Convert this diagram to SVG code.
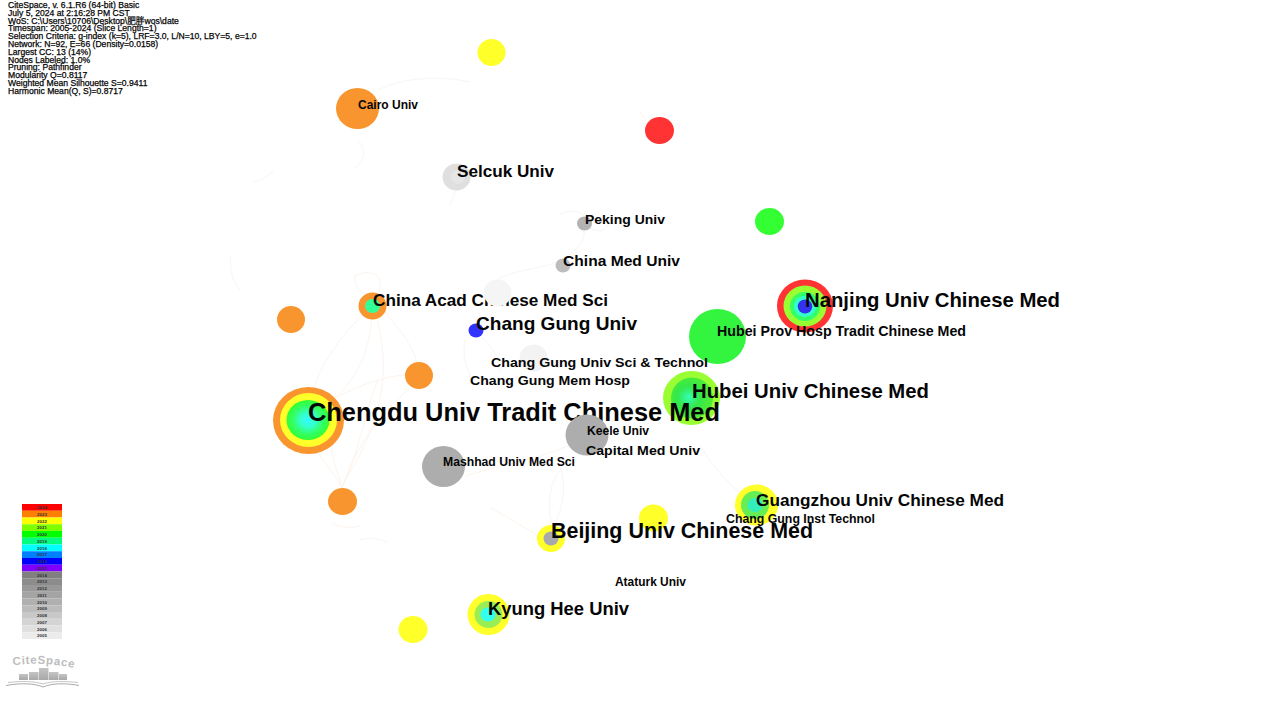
<svg xmlns="http://www.w3.org/2000/svg" width="1262" height="704" viewBox="0 0 1262 704">
<style>
text{font-family:"Liberation Sans","Noto Sans CJK SC",Arial,sans-serif;font-weight:bold;fill:#050505}
.h{font-size:8.6px;font-weight:normal;stroke:#050505;stroke-width:.25px}
.y{font-size:4.4px;text-anchor:middle;fill:#333}
.e{fill:none;stroke:#fdf4ec;stroke-width:1}
.g{fill:none;stroke:#f6f6f6;stroke-width:1}
.o{fill:#f9952f}.yl{fill:#ffff2a}.lg{fill:#99ff33}.gr{fill:#33ff33}.b{fill:#adadad}
</style>
<defs>
<radialGradient id="core"><stop offset="0" stop-color="#33ffff"/><stop offset=".35" stop-color="#33ffcc"/><stop offset=".7" stop-color="#33ff66"/><stop offset="1" stop-color="#33ff33"/></radialGradient>
<radialGradient id="core2" cx=".42" cy=".48"><stop offset="0" stop-color="#33ffbb"/><stop offset=".3" stop-color="#33f077"/><stop offset=".55" stop-color="#33e84a"/><stop offset="1" stop-color="#4cec38"/></radialGradient>
<linearGradient id="bar" x1="0" y1="0" x2="0" y2="1"><stop offset="0" stop-color="#c4c4c4"/><stop offset="1" stop-color="#a8a8a8"/></linearGradient>
<path id="arc" d="M13 665.500 Q43 661 76 668.500"/>
</defs>
<rect width="1262" height="704" fill="#fff"/>
<g id="connectors">
<path class="e" d="M372 306C335 340 318 370 313 392"/>
<path class="e" d="M372 310C372 355 350 390 325 405"/>
<path class="e" d="M376 315C388 360 390 410 345 480"/>
<path class="e" d="M385 312C400 330 412 345 417 362"/>
<path class="e" d="M335 398C360 385 385 376 405 375"/>
<path class="e" d="M342 488C358 440 385 410 410 388"/>
<path class="e" d="M342 488C335 465 330 450 332 445"/>
<path class="e" d="M342 488C325 460 318 455 315 448"/>
<path class="e" d="M342 488C360 450 365 410 378 380"/>
<path class="e" d="M356 275C375 268 385 278 378 293"/>
<path class="e" d="M356 275C352 280 358 292 366 294"/>
<path class="e" d="M332 522C335 525 345 530 360 526"/>
<path class="g" d="M360 540C368 537 380 538 388 543"/>
<path class="g" d="M231 255C229 270 233 282 240 290"/>
<path class="g" d="M358 140C366 150 366 160 355 168"/>
<path class="g" d="M378 90C400 78 440 75 470 82"/>
<path class="g" d="M253 182C262 180 270 175 274 170"/>
<path class="g" d="M456 190L450 205"/>
<path class="g" d="M584 216C580 210 570 210 560 214"/>
<path class="g" d="M590 228C600 234 606 230 610 222"/>
<path class="g" d="M563 258C578 250 586 240 584 230"/>
<path class="g" d="M497 280C512 270 545 268 556 262"/>
<path class="g" d="M475 330C490 345 498 352 500 372"/>
<path class="e" d="M465 340C462 355 466 365 470 375"/>
<path class="g" d="M553 528C546 505 550 480 561 470"/>
<path class="g" d="M553 528C565 505 566 480 560 468"/>
<path class="e" d="M537 535C520 525 505 515 490 508"/>
<path class="e" d="M465 476C500 465 540 458 570 445"/>
<path class="e" d="M700 445C715 470 730 485 742 494"/>
<path class="e" d="M640 112C645 118 648 122 650 125"/>
</g>
<g id="n-cairo"><ellipse class="o" cx="357.500" cy="108.500" rx="21.500" ry="20.500"/><text x="358" y="108.500" font-size="12" textLength="60" lengthAdjust="spacingAndGlyphs">Cairo Univ</text></g>
<g id="n-y1"><ellipse class="yl" cx="491.500" cy="52.500" rx="14" ry="13.500"/></g>
<g id="n-red"><ellipse fill="#ff3333" cx="659.500" cy="130.500" rx="14.500" ry="13.500"/></g>
<g id="n-g1"><ellipse class="gr" cx="769.500" cy="221.500" rx="14.500" ry="13.500"/></g>
<g id="n-selcuk"><ellipse fill="#dfdfdf" cx="456.500" cy="177" rx="14" ry="13.500"/><ellipse fill="#e6e6e6" cx="458" cy="177" rx="7" ry="7"/><text x="457" y="177" font-size="17" textLength="97" lengthAdjust="spacingAndGlyphs">Selcuk Univ</text></g>
<g id="n-peking"><ellipse fill="#b3b3b3" cx="584.500" cy="223.500" rx="7.500" ry="7"/><text x="585" y="223.500" font-size="13.500" textLength="80" lengthAdjust="spacingAndGlyphs">Peking Univ</text></g>
<g id="n-chinamed"><ellipse fill="#bdbdbd" cx="563" cy="265.500" rx="7.500" ry="7"/><text x="563" y="266" font-size="15.500" textLength="117" lengthAdjust="spacingAndGlyphs">China Med Univ</text></g>
<g id="n-o1"><ellipse class="o" cx="291" cy="319.500" rx="14" ry="13.500"/></g>
<g id="n-acad"><ellipse class="o" cx="372.500" cy="306" rx="14" ry="13.500"/><ellipse fill="#33ff99" cx="372.500" cy="306" rx="7.500" ry="7"/><text x="373" y="306" font-size="16.500" textLength="235" lengthAdjust="spacingAndGlyphs">China Acad Chinese Med Sci</text></g>
<g id="n-f1"><ellipse fill="#f5f5f5" cx="497.500" cy="293" rx="14" ry="13.500"/></g>
<g id="n-f2"><ellipse fill="#f3f3f3" cx="533.500" cy="358" rx="14" ry="13.500"/></g>
<g id="n-changgung"><ellipse fill="#3333ff" cx="476" cy="330.500" rx="7.500" ry="7"/><text x="476" y="330" font-size="18.500" textLength="161" lengthAdjust="spacingAndGlyphs">Chang Gung Univ</text></g>
<g id="n-nanjing"><ellipse fill="#ff3333" cx="805" cy="306" rx="28" ry="26.500"/><ellipse fill="#99ff33" cx="805" cy="306" rx="21.500" ry="20.500"/><ellipse fill="#33ff66" cx="805" cy="306.500" rx="15" ry="14.500"/><ellipse fill="#33ffcc" cx="805" cy="306.500" rx="11" ry="10.500"/><ellipse fill="#3333ee" cx="805" cy="306.500" rx="7.300" ry="7"/><text x="805" y="307" font-size="21" textLength="255" lengthAdjust="spacingAndGlyphs">Nanjing Univ Chinese Med</text></g>
<g id="n-hubeiprov"><ellipse fill="#33f53f" cx="717.500" cy="336.500" rx="28.500" ry="27.500"/><text x="717" y="336" font-size="14" textLength="249" lengthAdjust="spacingAndGlyphs">Hubei Prov Hosp Tradit Chinese Med</text></g>
<g id="n-cgust"><text x="491" y="367" font-size="13.500" textLength="217" lengthAdjust="spacingAndGlyphs">Chang Gung Univ Sci &amp; Technol</text></g>
<g id="n-cgmh"><text x="470" y="385" font-size="13.500" textLength="160" lengthAdjust="spacingAndGlyphs">Chang Gung Mem Hosp</text></g>
<g id="n-o2"><ellipse class="o" cx="419" cy="375.500" rx="14" ry="13.500"/></g>
<g id="n-hubei"><ellipse class="lg" cx="691.500" cy="398" rx="28.500" ry="27"/><ellipse fill="url(#core2)" cx="692" cy="398" rx="21" ry="20.500"/><text x="692" y="398" font-size="21" textLength="237" lengthAdjust="spacingAndGlyphs">Hubei Univ Chinese Med</text></g>
<g id="n-chengdu"><ellipse class="o" cx="308.500" cy="420.500" rx="35.500" ry="33.500"/><ellipse class="yl" cx="308.500" cy="420" rx="28.500" ry="27"/><ellipse fill="url(#core)" cx="308" cy="420" rx="21.500" ry="20"/><text x="308" y="421" font-size="25.500" textLength="412" lengthAdjust="spacingAndGlyphs">Chengdu Univ Tradit Chinese Med</text></g>
<g id="n-capital"><ellipse class="b" cx="587" cy="435" rx="21.500" ry="20.500"/><text x="586" y="455" font-size="13.500" textLength="114" lengthAdjust="spacingAndGlyphs">Capital Med Univ</text></g>
<g id="n-keele"><text x="587" y="435" font-size="12" textLength="62" lengthAdjust="spacingAndGlyphs">Keele Univ</text></g>
<g id="n-mashhad"><ellipse class="b" cx="443.500" cy="466.500" rx="21.500" ry="20.500"/><text x="443" y="466" font-size="12" textLength="132" lengthAdjust="spacingAndGlyphs">Mashhad Univ Med Sci</text></g>
<g id="n-o3"><ellipse class="o" cx="342.500" cy="501.500" rx="14.500" ry="13.500"/></g>
<g id="n-guangzhou"><ellipse class="yl" cx="756.500" cy="505" rx="21.500" ry="20.500"/><ellipse fill="#66ee55" cx="755" cy="505" rx="14" ry="14"/><ellipse fill="#33eebb" cx="755" cy="505" rx="7.500" ry="7"/><text x="756" y="506" font-size="16.500" textLength="248" lengthAdjust="spacingAndGlyphs">Guangzhou Univ Chinese Med</text></g>
<g id="n-cgit"><text x="726" y="523" font-size="12" textLength="149" lengthAdjust="spacingAndGlyphs">Chang Gung Inst Technol</text></g>
<g id="n-y2"><ellipse class="yl" cx="653.500" cy="518" rx="14.500" ry="13.500"/></g>
<g id="n-beijing"><ellipse class="yl" cx="551" cy="538.500" rx="14" ry="13.500"/><ellipse fill="#a8a8b0" cx="551" cy="538.500" rx="7.500" ry="7"/><text x="551" y="538" font-size="22" textLength="262" lengthAdjust="spacingAndGlyphs">Beijing Univ Chinese Med</text></g>
<g id="n-ataturk"><text x="615" y="586" font-size="12" textLength="71" lengthAdjust="spacingAndGlyphs">Ataturk Univ</text></g>
<g id="n-kyunghee"><ellipse class="yl" cx="488.500" cy="614.500" rx="21" ry="20.500"/><ellipse fill="#99ee55" cx="488.500" cy="614.500" rx="14" ry="13.500"/><ellipse fill="#33ffee" cx="488" cy="614.500" rx="7.500" ry="7"/><text x="488" y="615" font-size="17.500" textLength="141" lengthAdjust="spacingAndGlyphs">Kyung Hee Univ</text></g>
<g id="n-y3"><ellipse class="yl" cx="413" cy="629.500" rx="14.500" ry="13.500"/></g>
<g id="info">
<text class="h" x="8" y="8">CiteSpace, v. 6.1.R6 (64-bit) Basic</text>
<text class="h" x="8" y="15.800">July 5, 2024 at 2:16:28 PM CST</text>
<text class="h" x="8" y="23.600">WoS: C:\Users\10706\Desktop\肥胖wos\date</text>
<text class="h" x="8" y="31.400">Timespan: 2005-2024 (Slice Length=1)</text>
<text class="h" x="8" y="39.200">Selection Criteria: g-index (k=5), LRF=3.0, L/N=10, LBY=5, e=1.0</text>
<text class="h" x="8" y="47">Network: N=92, E=66 (Density=0.0158)</text>
<text class="h" x="8" y="54.800">Largest CC: 13 (14%)</text>
<text class="h" x="8" y="62.600">Nodes Labeled: 1.0%</text>
<text class="h" x="8" y="70.400">Pruning: Pathfinder</text>
<text class="h" x="8" y="78.200">Modularity Q=0.8117</text>
<text class="h" x="8" y="86">Weighted Mean Silhouette S=0.9411</text>
<text class="h" x="8" y="93.800">Harmonic Mean(Q, S)=0.8717</text>
</g>
<g id="legend">
<rect x="22" y="504" width="40" height="6.750" fill="#ff0000"/>
<rect x="22" y="510.750" width="40" height="6.750" fill="#ff8000"/>
<rect x="22" y="517.500" width="40" height="6.750" fill="#ffff00"/>
<rect x="22" y="524.250" width="40" height="6.750" fill="#80ff00"/>
<rect x="22" y="531" width="40" height="6.750" fill="#00ff00"/>
<rect x="22" y="537.750" width="40" height="6.750" fill="#00ff80"/>
<rect x="22" y="544.500" width="40" height="6.750" fill="#00ffff"/>
<rect x="22" y="551.250" width="40" height="6.750" fill="#0080ff"/>
<rect x="22" y="558" width="40" height="6.750" fill="#0000ff"/>
<rect x="22" y="564.750" width="40" height="6.750" fill="#8000ff"/>
<rect x="22" y="571.500" width="40" height="6.750" fill="#808080"/>
<rect x="22" y="578.250" width="40" height="6.750" fill="#8c8c8c"/>
<rect x="22" y="585" width="40" height="6.750" fill="#989898"/>
<rect x="22" y="591.750" width="40" height="6.750" fill="#a4a4a4"/>
<rect x="22" y="598.500" width="40" height="6.750" fill="#b0b0b0"/>
<rect x="22" y="605.250" width="40" height="6.750" fill="#bcbcbc"/>
<rect x="22" y="612" width="40" height="6.750" fill="#c8c8c8"/>
<rect x="22" y="618.750" width="40" height="6.750" fill="#d4d4d4"/>
<rect x="22" y="625.500" width="40" height="6.750" fill="#e0e0e0"/>
<rect x="22" y="632.250" width="40" height="6.750" fill="#ececec"/>
<text class="y" x="42" y="509">2024</text><text class="y" x="42" y="515.700">2023</text><text class="y" x="42" y="522.500">2022</text><text class="y" x="42" y="529.200">2021</text><text class="y" x="42" y="536">2020</text><text class="y" x="42" y="542.700">2019</text><text class="y" x="42" y="549.500">2018</text><text class="y" x="42" y="556.200">2017</text><text class="y" x="42" y="563">2016</text><text class="y" x="42" y="569.700">2015</text><text class="y" x="42" y="576.500">2014</text><text class="y" x="42" y="583.200">2013</text><text class="y" x="42" y="590">2012</text><text class="y" x="42" y="596.700">2011</text><text class="y" x="42" y="603.500">2010</text><text class="y" x="42" y="610.200">2009</text><text class="y" x="42" y="617">2008</text><text class="y" x="42" y="623.700">2007</text><text class="y" x="42" y="630.500">2006</text><text class="y" x="42" y="637.200">2005</text>
</g>
<g id="logo">
<text font-size="11.500" letter-spacing=".7" style="fill:#bdbdbd"><textPath href="#arc">CiteSpace</textPath></text>
<rect x="19" y="674" width="9" height="6" fill="url(#bar)"/>
<rect x="29" y="672" width="9.500" height="8" fill="url(#bar)"/>
<rect x="39" y="668" width="9.500" height="12" fill="url(#bar)"/>
<rect x="49" y="672" width="9.500" height="8" fill="url(#bar)"/>
<rect x="59" y="674" width="8" height="6" fill="url(#bar)"/>
<path d="M6 685.500C20 683 34 683 43 687C52 683 66 683 79 685.500" fill="none" stroke="#a0a0a0" stroke-width=".9"/>
<path d="M8 682.500C22 681 34 681 43 684C52 681 64 681 78 682.500" fill="none" stroke="#c0c0c0" stroke-width=".9"/>
</g>
</svg>
